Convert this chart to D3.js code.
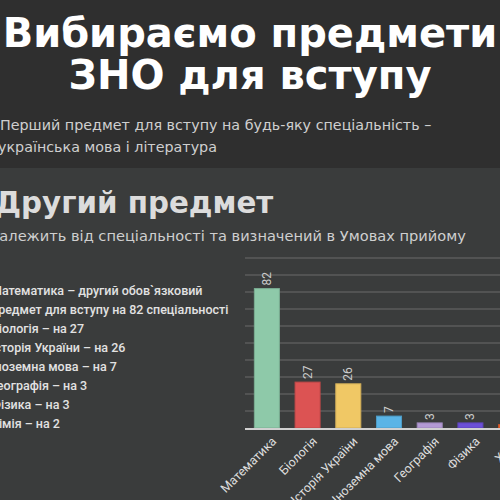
<!DOCTYPE html>
<html><head><meta charset="utf-8">
<script src="https://cdn.jsdelivr.net/npm/d3@7"></script>
<style>html,body{margin:0;padding:0;background:#3a3c3c;overflow:hidden}</style>
</head><body>
<script>
const categories = ["Математика","Біологія","Історія України","Іноземна мова","Географія","Фізика","Хімія"];
const values = [82,27,26,7,3,3,2];
const colors = ["#8ec9a9","#dc5353","#f0c865","#5ab4e6","#b39ad4","#6b4fd8","#e8602c"];
const yTicks = [10,20,30,40,50,60,70,80,90,100];
const titleLines = ["Вибираємо предмети","ЗНО для вступу"];
const subtitleLines = ["Перший предмет для вступу на будь-яку спеціальність –","українська мова і література"];
const heading = "Другий предмет";
const headingSub = "Залежить від спеціальності та визначений в Умовах прийому";
const notes = ["Математика – другий обов`язковий","предмет для вступу на 82 спеціальності","Біологія – на 27","Історія України –  на 26","Іноземна мова  –  на 7","Географія –  на 3","Фізика  –  на 3","Хімія –  на 2"];

const W=500,H=500;
const svg=d3.select("body").append("svg").attr("width",W).attr("height",H);
svg.append("rect").attr("width",W).attr("height",168).attr("fill","#2f2f2f");
svg.append("rect").attr("y",168).attr("width",W).attr("height",H-168).attr("fill","#3a3c3c");

svg.selectAll("text.title").data(titleLines).join("text")
  .attr("x",250).attr("y",(d,i)=>47+i*42).attr("text-anchor","middle")
  .attr("font-family","DejaVu Sans").attr("font-weight","bold").attr("font-size",40)
  .attr("fill","#ffffff").text(d=>d);

svg.selectAll("text.sub").data(subtitleLines).join("text")
  .attr("x",(d,i)=>i===0?0:-2).attr("y",(d,i)=>130+i*22)
  .attr("font-family","DejaVu Sans").attr("font-size",14.3)
  .attr("fill","#cfcfcf").text(d=>d);

svg.append("text").attr("x",-5).attr("y",213)
  .attr("font-family","DejaVu Sans").attr("font-weight","bold").attr("font-size",29.3)
  .attr("fill","#dcdcdc").text(heading);
svg.append("text").attr("x",-10).attr("y",241)
  .attr("font-family","DejaVu Sans").attr("font-size",14.6)
  .attr("fill","#cfcfcf").text(headingSub);

svg.selectAll("text.note").data(notes).join("text")
  .attr("x",-9).attr("y",(d,i)=>295+i*19)
  .attr("font-family","Roboto").attr("font-weight",500).attr("font-size",12.5)
  .attr("fill","#e2e2e2").text(d=>d);

const y=d3.scaleLinear().domain([0,100]).range([428,258]);
const x=d3.scaleBand().domain(categories).range([245,533]).paddingInner(0.385).paddingOuter(0.23);

const g=svg.append("g");
g.selectAll("line.grid").data(yTicks).join("line")
  .attr("x1",245).attr("x2",W).attr("y1",d=>y(d)).attr("y2",d=>y(d))
  .attr("stroke","#6a6b6b").attr("stroke-width",1);

g.selectAll("rect.bar").data(values).join("rect")
  .attr("x",(d,i)=>x(categories[i])).attr("width",x.bandwidth())
  .attr("y",d=>y(d)).attr("height",d=>y(0)-y(d))
  .attr("fill",(d,i)=>colors[i])
  .attr("stroke",(d,i)=>d3.color(colors[i]).darker(0.4)).attr("stroke-width",1);

g.selectAll("text.val").data(values).join("text")
  .attr("transform",(d,i)=>`translate(${x(categories[i])+x.bandwidth()/2+4},${y(d)-3}) rotate(-90)`)
  .attr("font-family","Roboto").attr("font-size",12).attr("fill","#cccccc")
  .text(d=>d);

g.append("line").attr("x1",245).attr("x2",W).attr("y1",y(0)+1).attr("y2",y(0)+1)
  .attr("stroke","#d0d0d0").attr("stroke-width",2);

g.selectAll("text.cat").data(categories).join("text")
  .attr("transform",d=>`translate(${x(d)+x.bandwidth()/2+4},${y(0)+8}) rotate(-45)`)
  .attr("text-anchor","end").attr("dy","0.7em")
  .attr("font-family","Roboto").attr("font-size",12.5).attr("fill","#dddddd")
  .text(d=>d);
</script>
</body></html>
